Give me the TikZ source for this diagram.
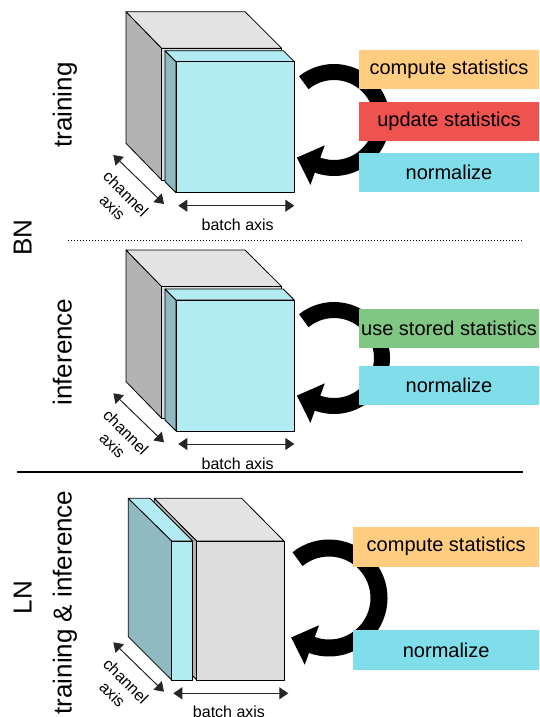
\documentclass[tikz,border=0pt]{standalone}
\usepackage{fontspec}
\setmainfont{Liberation Sans}
\usetikzlibrary{arrows.meta,calc}

\definecolor{cubetop}{HTML}{E3E3E3}
\definecolor{cubeside}{HTML}{B3B3B3}
\definecolor{cubefront}{HTML}{DDDDDD}
\definecolor{slabfront}{HTML}{B2EBF2}
\definecolor{slabside}{HTML}{8FBAC1}
\definecolor{statorange}{HTML}{FFCC80}
\definecolor{statred}{HTML}{EF5350}
\definecolor{normcyan}{HTML}{80DEEA}
\definecolor{statgreen}{HTML}{81C784}

% circular "process" arrow: centre x, centre y, radius, stroke width
\newcommand\loopcycle[4]{%
  \begin{scope}[shift={(#1,#2)}, x=1pt, y=1pt]
    \draw[line width=#4] (129:#3) arc[start angle=129, end angle=-111, radius=#3];
    \fill ($(-110:#3)+(160:22)$) -- ($(-110:#3)+(70:21)$) -- ($(-110:#3)+(-110:21)$) -- cycle;
  \end{scope}}

% batch-norm tensor: grey cube with one cyan batch slab in front
\newcommand\bnpanel[2]{%
  \begin{scope}[shift={(0,#1)}]
    \filldraw[face, fill=cubeside] (126,11.7) -- (161.7,48.3) -- (161.7,180) -- (126,143.3) -- cycle;
    \filldraw[face, fill=cubetop] (126,11.7) -- (245,11.7) -- (281.7,48.3) -- (161.7,48.3) -- cycle;
    \filldraw[face, fill=cubefront] (161.7,48.3) rectangle (281.7,180);
    \filldraw[face, fill=slabside] (165,50.7) -- (176,61.7) -- (176,192.7) -- (165,181.7) -- cycle;
    \filldraw[face, fill=slabfront] (165,50.7) -- (283.3,50.7) -- (294.3,61.7) -- (176,61.7) -- cycle;
    \filldraw[face, fill=slabfront] (176,61.7) rectangle (294.3,192.7);
    \coordinate (#2c1) at (113.3,155);
    \coordinate (#2c2) at (164,204);
    \coordinate (#2b1) at (178.3,205.7);
    \coordinate (#2b2) at (294.3,205.7);
    \draw[axisarrow] (#2c1) -- (#2c2);
    \draw[axisarrow] (#2b1) -- (#2b2);
    \node[axislabel] (#2batch) at (237.7,225) {batch axis};
    \node[chanlabel] (#2chan) at (119.2,200.4) {channel\\axis};
  \end{scope}}

\begin{document}
\begin{tikzpicture}[x=1pt, y=-1pt,
  face/.style={draw=black, line width=0.8pt, line join=round},
  axisarrow/.style={line width=1pt, draw=black!85,
    {Triangle[length=9pt,width=12pt]}-{Triangle[length=9pt,width=12pt]}},
  axislabel/.style={font=\fontsize{16}{18}\selectfont, inner sep=0},
  chanlabel/.style={font=\fontsize{16}{19}\selectfont, align=center, inner sep=0, rotate=-45},
  sidelabel/.style={font=\fontsize{26}{30}\selectfont, rotate=90, anchor=base, inner sep=0},
  opbox/.style={minimum width=180pt, minimum height=39pt, inner sep=0,
    font=\fontsize{20}{24}\selectfont}]

\useasboundingbox (0,0) rectangle (539,717);

% ---------- BN, training ----------
\bnpanel{0}{tr}
\loopcycle{334}{120}{48}{16pt}
\node[opbox, fill=statorange] (trcompute) at (449,69.5) {compute statistics};
\node[opbox, fill=statred] (trupdate) at (449,121.3) {update statistics};
\node[opbox, fill=normcyan] (trnorm) at (449,172.8) {normalize};
\node[sidelabel] (trlabel) at (71.7,105) {training};

% separator between the two BN modes
\coordinate (dotL) at (68,240);
\coordinate (dotR) at (523,240);
\draw[line width=1pt, dash pattern=on 1pt off 2pt] (dotL) -- (dotR);
\node[sidelabel] (bnlabel) at (31.7,237.5) {BN};

% ---------- BN, inference ----------
\bnpanel{238.3}{inf}
\loopcycle{334}{358}{48}{16pt}
\node[opbox, fill=statgreen] (infstored) at (449,328.7) {use stored statistics};
\node[opbox, fill=normcyan] (infnorm) at (449,385.5) {normalize};
\node[sidelabel] (inflabel) at (71.7,352) {inference};

% separator between BN and LN
\coordinate (solL) at (17,472);
\coordinate (solR) at (523,472);
\draw[line width=2pt] (solL) -- (solR);

% ---------- LN, training & inference ----------
\filldraw[face, fill=cubeside] (154.3,498.3) -- (196.7,541) -- (196.7,680) -- (154.3,637.3) -- cycle;
\filldraw[face, fill=cubetop] (154.3,498.3) -- (241.7,498.3) -- (284,541) -- (196.7,541) -- cycle;
\filldraw[face, fill=cubefront] (196.7,541) rectangle (284,680);
\filldraw[face, fill=slabside] (128.3,498.3) -- (171.7,541) -- (171.7,680) -- (128.3,636.7) -- cycle;
\filldraw[face, fill=slabfront] (128.3,498.3) -- (150,498.3) -- (192.7,541) -- (171.7,541) -- cycle;
\filldraw[face, fill=slabfront] (171.7,541) rectangle (192.7,680);
\coordinate (lnc1) at (113.3,642.3);
\coordinate (lnc2) at (164,691.7);
\coordinate (lnb1) at (173.3,693.3);
\coordinate (lnb2) at (288.3,693.3);
\draw[axisarrow] (lnc1) -- (lnc2);
\draw[axisarrow] (lnb1) -- (lnb2);
\node[axislabel] (lnbatch) at (229,712) {batch axis};
\node[chanlabel] (lnchan) at (119.2,687.7) {channel\\axis};

\loopcycle{329}{598}{50}{17pt}
\node[opbox, minimum width=186pt, minimum height=40pt, fill=statorange] (lncompute) at (446.2,546.7) {compute statistics};
\node[opbox, minimum width=186pt, minimum height=40pt, fill=normcyan] (lnnorm) at (446.2,650.3) {normalize};
\node[sidelabel] (lnlabel) at (31.7,597.5) {LN};
\node[sidelabel] (lnmode) at (71.7,602.5) {training \& inference};

\end{tikzpicture}
\end{document}
